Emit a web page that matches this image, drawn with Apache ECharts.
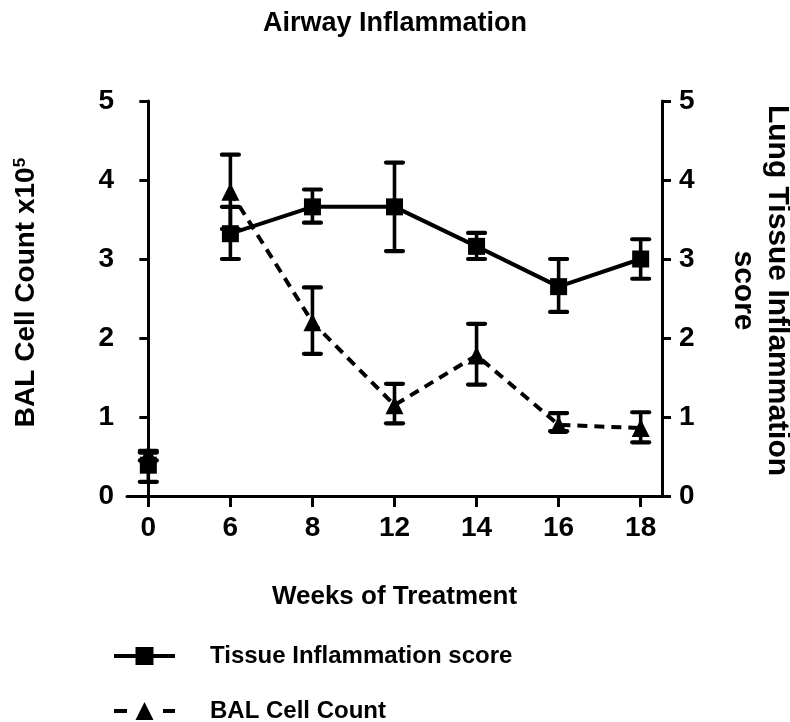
<!DOCTYPE html>
<html><head><meta charset="utf-8">
<script src="https://cdn.jsdelivr.net/npm/echarts@6/dist/echarts.min.js"></script>
<style>html,body{margin:0;padding:0;background:#fff}#c{width:790px;height:722px}</style>
</head><body><div id="c"></div>
<script>
const weeks = ['0', '6', '8', '12', '14', '16', '18'];
const tissueMean = [0.39, 3.32, 3.66, 3.66, 3.16, 2.65, 3.00];
const tissueLow  = [0.18, 3.00, 3.46, 3.10, 3.00, 2.33, 2.75];
const tissueHigh = [0.55, 3.66, 3.88, 4.22, 3.33, 3.00, 3.25];
const balMean = [0.53, 3.85, 2.20, 1.15, 1.78, 0.90, 0.86];
const balLow  = [0.45, 3.38, 1.80, 0.92, 1.41, 0.82, 0.68];
const balHigh = [0.57, 4.32, 2.64, 1.42, 2.18, 1.05, 1.06];
const yMin = 0, yMax = 5, yStep = 1;

const FONT = 'Liberation Sans, Arial, sans-serif';
const TISSUE = 'Tissue Inflammation score';
const BAL = 'BAL Cell Count';
const idx = weeks.map((w, i) => i);

function lineData(mean) { return idx.slice(1).map(i => [i, mean[i]]); }
function ctrlData(mean) { return [[0, mean[0]]]; }
function errData(lo, hi) { return idx.map(i => [i, lo[i], hi[i]]); }

function errRender(params, api) {
  const x = api.value(0), lo = api.value(1), hi = api.value(2);
  const a = api.coord([x, lo]), b = api.coord([x, hi]);
  const hw = 8.5;
  const st = { stroke: '#000', lineWidth: 3.6 };
  const cap = { stroke: '#000', lineWidth: 4.2, lineCap: 'round' };
  return { type: 'group', children: [
    { type: 'line', shape: { x1: a[0], y1: a[1], x2: b[0], y2: b[1] }, style: st },
    { type: 'line', shape: { x1: a[0] - hw, y1: a[1], x2: a[0] + hw, y2: a[1] }, style: cap },
    { type: 'line', shape: { x1: b[0] - hw, y1: b[1], x2: b[0] + hw, y2: b[1] }, style: cap }
  ]};
}

const yAxisBase = {
  type: 'value', min: yMin, max: yMax, interval: yStep,
  splitLine: { show: false },
  axisLine: { show: true, lineStyle: { color: '#000', width: 3 } },
  axisTick: { show: true, inside: false, length: 9, lineStyle: { color: '#000', width: 3 } },
  axisLabel: { color: '#000', fontSize: 28, fontWeight: 'bold', fontFamily: FONT, margin: 13 },
  nameLocation: 'middle',
  nameTextStyle: { color: '#000', fontWeight: 'bold', fontFamily: FONT }
};

const legendText = { color: '#000', fontSize: 24, fontWeight: 'bold', fontFamily: FONT, padding: [0, 0, 0, 30] };

const option = {
  backgroundColor: '#fff',
  animation: false,
  title: {
    text: 'Airway Inflammation', left: 'center', top: 10, padding: 0,
    textStyle: { color: '#000', fontSize: 27, fontWeight: 'bold', fontFamily: FONT }
  },
  grid: { left: 127, right: 128, top: 101, bottom: 226, containLabel: false, outerBoundsMode: 'none' },
  xAxis: {
    type: 'value', min: -0.26, max: 6.26,
    splitLine: { show: false },
    axisLine: { show: true, onZero: false, lineStyle: { color: '#000', width: 3 } },
    axisTick: { show: true, customValues: idx, length: 11, lineStyle: { color: '#000', width: 3 } },
    axisLabel: { customValues: idx, formatter: v => weeks[Math.round(v)], color: '#000', fontSize: 28, fontWeight: 'bold', fontFamily: FONT, margin: 18 },
    name: 'Weeks of Treatment', nameLocation: 'middle', nameGap: 88,
    nameTextStyle: { color: '#000', fontSize: 26, fontWeight: 'bold', fontFamily: FONT }
  },
  yAxis: [
    Object.assign({}, yAxisBase, {
      position: 'left',
      name: 'BAL Cell Count x10{sup|5}', nameGap: 86,
      nameTextStyle: { color: '#000', fontSize: 28, fontWeight: 'bold', fontFamily: FONT, padding: [0, 0, 0, 12],
        rich: { sup: { fontSize: 17, fontWeight: 'bold', fontFamily: FONT, color: '#000', padding: [0, 0, 12, 0] } } }
    }),
    Object.assign({}, yAxisBase, {
      position: 'right',
      axisLabel: Object.assign({}, yAxisBase.axisLabel, { margin: 17 }),
      name: 'Lung Tissue Inflammation\nscore', nameGap: 64, nameRotate: -90,
      nameTextStyle: { color: '#000', fontSize: 30, fontWeight: 'bold', fontFamily: FONT, lineHeight: 34, padding: [0, 16, 0, 0] }
    })
  ],
  legend: [
    {
      left: 112, top: 644, padding: 0, itemWidth: 61, itemHeight: 22.5,
      textStyle: legendText,
      data: [{ name: TISSUE, lineStyle: { type: 'solid', width: 4, color: '#000' } }]
    },
    {
      left: 112, top: 699, padding: 0, itemWidth: 61, itemHeight: 22.5,
      textStyle: legendText,
      data: [{ name: BAL, lineStyle: { type: [13, 36], width: 4, color: '#000' } }]
    }
  ],
  series: [
    { type: 'custom', name: TISSUE + ' err', yAxisIndex: 1, renderItem: errRender, data: errData(tissueLow, tissueHigh),
      encode: { x: 0, y: [1, 2] }, clip: false, z: 2, silent: true },
    { type: 'custom', name: BAL + ' err', yAxisIndex: 0, renderItem: errRender, data: errData(balLow, balHigh),
      encode: { x: 0, y: [1, 2] }, clip: false, z: 2, silent: true },
    { type: 'line', name: TISSUE, yAxisIndex: 1, data: lineData(tissueMean), symbol: 'rect', symbolSize: 17,
      lineStyle: { color: '#000', width: 4, type: 'solid' }, itemStyle: { color: '#000', opacity: 1 }, z: 3 },
    { type: 'scatter', name: TISSUE, yAxisIndex: 1, data: ctrlData(tissueMean), symbol: 'rect', symbolSize: 17,
      itemStyle: { color: '#000', opacity: 1 }, z: 3 },
    { type: 'line', name: BAL, yAxisIndex: 0, data: lineData(balMean), symbol: 'triangle', symbolSize: [18, 18],
      lineStyle: { color: '#000', width: 4, type: [10, 7] }, itemStyle: { color: '#000', opacity: 1 }, z: 4 },
    { type: 'scatter', name: BAL, yAxisIndex: 0, data: ctrlData(balMean), symbol: 'triangle', symbolSize: [18, 18],
      itemStyle: { color: '#000', opacity: 1 }, z: 4 }
  ]
};

const chart = echarts.init(document.getElementById('c'), null, { renderer: 'canvas' });
chart.setOption(option);
</script>
</body></html>
